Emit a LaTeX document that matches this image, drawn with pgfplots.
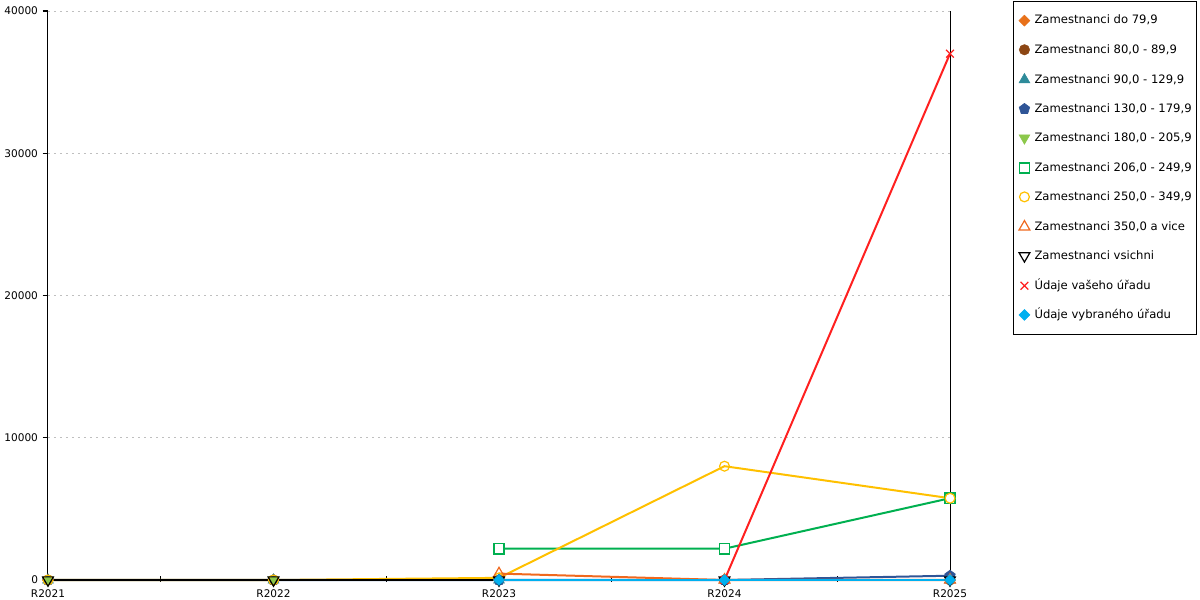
\documentclass[border=0pt]{standalone}
\usepackage{fontspec}
\setmainfont{DejaVu Sans}
\usepackage{pgfplots}
\pgfplotsset{compat=1.18}

\definecolor{cDo}{RGB}{232,113,26}
\definecolor{cEighty}{RGB}{140,70,20}
\definecolor{cNinety}{RGB}{46,139,154}
\definecolor{cOneThirty}{RGB}{47,85,151}
\definecolor{cOneEighty}{RGB}{140,200,75}
\definecolor{cTwoSix}{RGB}{0,176,80}
\definecolor{cTwoFifty}{RGB}{255,192,0}
\definecolor{cThreeFifty}{RGB}{240,105,30}
\definecolor{cVas}{RGB}{255,32,32}
\definecolor{cVyb}{RGB}{0,176,240}

\begin{document}
\begin{tikzpicture}
\begin{axis}[
    at={(0pt,0pt)}, anchor=south west,
    scale only axis,
    width=676.5pt, height=426.75pt,
    xmin=0, xmax=4, ymin=0, ymax=40000,
    clip=false,
    axis x line*=bottom,
    axis line style={black, line width=0.75pt},
    ytick={0,10000,20000,30000,40000},
    scaled y ticks=false,
    ytick pos=left,
    ymajorgrids,
    grid style={gray!50, line width=0.75pt, dash pattern=on 1.5pt off 3pt},
    tick align=outside,
    major tick length=4pt,
    ytick style={black, line width=0.9pt},
    xtick={0.5,1.5,2.5,3.5},
    xticklabels={},
    xtick style={black, line width=0.75pt, yshift=2.8pt},
    extra x ticks={0,1,2,3,4},
    extra x tick labels={R2021,R2022,R2023,R2024,R2025},
    extra x tick style={xtick style={draw=none}, grid=none},
    /pgf/number format/assume math mode=true,
    /pgf/number format/1000 sep={},
    tick label style={font=\fontsize{7.9}{9}\selectfont},
    every axis plot/.append style={line width=1.5pt},
    legend cell align=left,
    legend image code/.code={%
        \path (-4pt,0pt) (4pt,0pt);
        \draw[#1] plot[only marks] coordinates {(0pt,0pt)};},
    legend style={
        at={(axis description cs:1.0698,1.0176)}, anchor=north west,
        draw=black, line width=0.75pt, fill=white,
        font=\fontsize{8.7}{10}\selectfont,
        inner xsep=3.5pt, inner ysep=10.25pt,
        row sep=13.75pt, column sep=2.8pt,
        nodes={inner sep=0pt, text height=6.5pt, text depth=1.5pt},
    },
]
% Zamestnanci do 79,9
\addplot[color=cDo, mark=square*, mark size=2.9pt, mark options={rotate=45, line width=0.4pt}]
    coordinates {(0,0) (1,0) (2,0) (3,0) (4,0)};
\addlegendentry{Zamestnanci do 79,9}
% Zamestnanci 80,0 - 89,9
\addplot[color=cEighty, mark=*, mark size=3.9pt, mark options={line width=0.4pt}]
    coordinates {(0,0) (1,0) (2,0) (3,0) (4,0)};
\addlegendentry{Zamestnanci 80,0 - 89,9}
% Zamestnanci 90,0 - 129,9
\addplot[color=cNinety, mark=triangle*, mark size=4.7pt, mark options={line width=0.4pt}]
    coordinates {(0,0) (1,0) (2,0) (3,0) (4,0)};
\addlegendentry{Zamestnanci 90,0 - 129,9}
% Zamestnanci 130,0 - 179,9
\addplot[color=cOneThirty, mark=pentagon*, mark size=4.2pt, mark options={line width=0.4pt}]
    coordinates {(0,0) (1,0) (2,0) (3,0) (4,300)};
\addlegendentry{Zamestnanci 130,0 - 179,9}
% Zamestnanci 180,0 - 205,9
\addplot[color=cOneEighty, mark=triangle*, mark size=4.7pt, mark options={rotate=180, line width=0.4pt}]
    coordinates {(0,0) (1,0)};
\addlegendentry{Zamestnanci 180,0 - 205,9}
% Zamestnanci 206,0 - 249,9
\addplot[color=cTwoSix, mark=square*, mark size=3.8pt, mark options={line width=1.1pt, draw=cTwoSix, fill=white}]
    coordinates {(2,2200) (3,2200) (4,5750)};
\addlegendentry{Zamestnanci 206,0 - 249,9}
% Zamestnanci 250,0 - 349,9
\addplot[color=cTwoFifty, mark=o, mark size=3.7pt, mark options={line width=0.9pt}]
    coordinates {(0,0) (1,0) (2,150) (3,8000) (4,5750)};
\addlegendentry{Zamestnanci 250,0 - 349,9}
% Zamestnanci 350,0 a vice
\addplot[color=cThreeFifty, mark=triangle, mark size=4.7pt, mark options={line width=0.9pt}]
    coordinates {(2,450) (3,0) (4,0)};
\addlegendentry{Zamestnanci 350,0 a vice}
% Zamestnanci vsichni
\addplot[color=black, mark=triangle, mark size=4.7pt, mark options={rotate=180, line width=0.9pt}]
    coordinates {(0,0) (1,0) (2,0) (3,0) (4,0)};
\addlegendentry{Zamestnanci vsichni}
% Udaje vaseho uradu
\addplot[color=cVas, mark=x, mark size=4.1pt, mark options={line width=0.9pt}]
    coordinates {(3,0) (4,37000)};
\addlegendentry{Údaje vašeho úřadu}
% Udaje vybraneho uradu
\addplot[color=cVyb, mark=square*, mark size=2.9pt, mark options={rotate=45, line width=0.4pt}]
    coordinates {(2,0) (3,0) (4,0)};
\addlegendentry{Údaje vybraného úřadu}
\end{axis}
\pgfresetboundingbox
\path[use as bounding box] (-36pt,-15pt) rectangle (864pt,435pt);
\end{tikzpicture}
\end{document}
